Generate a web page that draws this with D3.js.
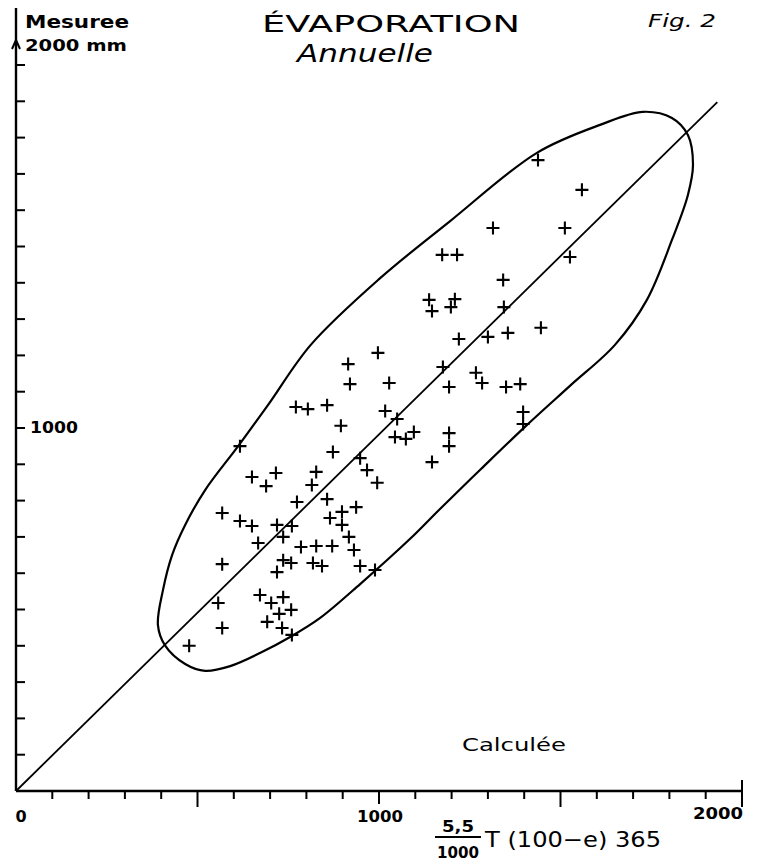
<!DOCTYPE html>
<html>
<head>
<meta charset="utf-8">
<script src="https://cdn.jsdelivr.net/npm/d3@7"></script>
<style>
  body { margin: 0; background: #fff; }
  svg { display: block; }
  .lbl { font-family: "DejaVu Sans", sans-serif; fill: #000; }
</style>
</head>
<body>
<svg id="chart" width="757" height="866"></svg>
<script>
// measured (y) vs calculated (x) annual evaporation, mm
const calcValues = [1438, 1559, 1314, 1512, 1526, 1174, 1215, 1342, 1138, 1209, 1146, 1198, 1344, 1446,
  1220, 1300, 1355, 1176, 1028, 1193, 1267, 1284, 1350, 1389, 1017, 1050, 1397, 1397, 1044, 1074,
  1096, 1193, 1193, 1146, 997, 915, 920, 771, 804, 857, 895, 617, 873, 948, 967, 995, 650, 716,
  689, 827, 815, 774, 857, 568, 617, 650, 719, 760, 736, 898, 937, 865, 898, 917, 931, 948, 989,
  667, 785, 827, 871, 736, 758, 818, 843, 719, 568, 672, 703, 736, 758, 725, 692, 733, 760, 557,
  568, 477];
const measValues = [1738, 1656, 1551, 1551, 1471, 1477, 1477, 1408, 1353, 1355, 1322, 1333, 1333, 1276,
  1245, 1251, 1262, 1168, 1124, 1113, 1152, 1124, 1113, 1121, 1047, 1025, 1044, 1011, 975, 970,
  989, 986, 950, 906, 1207, 1176, 1121, 1058, 1052, 1063, 1006, 950, 934, 917, 884, 849, 865, 876,
  840, 879, 843, 796, 804, 766, 744, 730, 733, 730, 700, 769, 782, 752, 733, 700, 664, 620, 609,
  683, 672, 675, 675, 636, 628, 628, 620, 603, 625, 540, 518, 534, 499, 488, 466, 449, 430, 518,
  449, 400];

// hand-drawn envelope round the cloud (calc, meas)
const envCalc = [1727, 1807, 1851, 1865, 1851, 1807, 1738, 1650, 1526, 1402, 1281, 1168, 1085, 948, 837,
  760, 672, 590, 521, 466, 410, 391, 405, 430, 466, 521, 612, 694, 812, 1000, 1196, 1435, 1609];
const envMeas = [1871, 1854, 1807, 1725, 1642, 1518, 1353, 1229, 1116, 1003, 887, 777, 694, 570, 476,
  427, 380, 344, 331, 350, 402, 457, 554, 650, 733, 829, 950, 1063, 1229, 1410, 1570, 1758, 1835];

const diagEnd = [1932, 1898];
const axisTicks = d3.range(0, 2001, 100);

const svg = d3.select("#chart");
const x = d3.scaleLinear().domain([0, 2000]).range([16, 742]);
const y = d3.scaleLinear().domain([0, 2000]).range([791, 65]);

svg.append("rect").attr("width", 757).attr("height", 866).attr("fill", "#fff");

// axes
const ax = svg.append("g").attr("stroke", "#000").attr("fill", "none");
ax.append("line").attr("x1", x(0)).attr("x2", x(2000)).attr("y1", y(0)).attr("y2", y(0)).attr("stroke-width", 2.4);
ax.append("line").attr("x1", x(0)).attr("x2", x(0)).attr("y1", y(0)).attr("y2", 8).attr("stroke-width", 2.4);
ax.append("path").attr("d", `M${x(0) - 4},${49} L${x(0)},${40} L${x(0) + 4},${49}`).attr("stroke-width", 2);

ax.selectAll(".xt").data(axisTicks.filter(d => d > 0)).enter().append("line")
  .attr("x1", d => x(d)).attr("x2", d => x(d))
  .attr("y1", d => d === 2000 ? y(0) - 11 : y(0))
  .attr("y2", d => y(0) + (d % 500 === 0 ? (d === 1000 ? 13 : 16) : 8))
  .attr("stroke-width", 2);

ax.selectAll(".yt").data(axisTicks.filter(d => d > 0)).enter().append("line")
  .attr("x1", x(0)).attr("x2", x(0) + 9)
  .attr("y1", d => y(d)).attr("y2", d => y(d))
  .attr("stroke-width", 2);

// 1:1 line
ax.append("line").attr("x1", x(0)).attr("y1", y(0)).attr("x2", x(diagEnd[0])).attr("y2", y(diagEnd[1])).attr("stroke-width", 1.8);

// envelope
const env = envCalc.map((c, i) => [c, envMeas[i]]);
ax.append("path")
  .attr("d", d3.line().x(d => x(d[0])).y(d => y(d[1])).curve(d3.curveCatmullRomClosed.alpha(0.5))(env))
  .attr("stroke-width", 2.2);

// crosses
const pts = calcValues.map((c, i) => [c, measValues[i]]);
svg.append("g").selectAll("path").data(pts).enter().append("path")
  .attr("d", d => `M${x(d[0]) - 6.5},${y(d[1])} h13 M${x(d[0])},${y(d[1]) - 6.5} v13`)
  .attr("stroke", "#000").attr("stroke-width", 2.1).attr("fill", "none");

// texts
const t = svg.append("g");
const label = (tx, ty, size, str, opts = {}) => {
  const el = t.append("text").attr("class", "lbl").attr("x", tx).attr("y", ty).attr("font-size", size).text(str);
  if (opts.anchor) el.attr("text-anchor", opts.anchor);
  if (opts.bold) el.attr("font-weight", "bold");
  if (opts.italic) el.attr("font-style", "italic");
  if (opts.len) el.attr("textLength", opts.len).attr("lengthAdjust", "spacingAndGlyphs");
  return el;
};
label(25, 28, 18, "Mesuree", { bold: true, len: 104 });
label(25, 51, 15, "2000 mm", { bold: true, len: 102 });
label(30, y(1000) + 5, 15, "1000", { bold: true, len: 48 });
label(391, 32, 23, "ÉVAPORATION", { anchor: "middle", len: 258 });
label(297, 62, 25, "Annuelle", { italic: true, len: 136 });
label(648, 27, 18, "Fig. 2", { italic: true, len: 68 });
label(x(0) + 5, 822, 16, "0", { anchor: "middle", bold: true });
label(x(1000) + 1, 822, 15, "1000", { anchor: "middle", bold: true, len: 46 });
label(x(2000) - 24, 819, 16, "2000", { anchor: "middle", bold: true, len: 50 });
label(514, 751, 18, "Calculée", { anchor: "middle", len: 104 });
// formula
label(458, 832, 16, "5,5", { anchor: "middle", bold: true, len: 32 });
svg.append("line").attr("x1", 435).attr("x2", 481).attr("y1", 837).attr("y2", 837).attr("stroke", "#000").attr("stroke-width", 2);
label(458, 858, 15, "1000", { anchor: "middle", bold: true, len: 42 });
label(485, 847, 22, "T (100−e) 365", { len: 176 });
</script>
</body>
</html>
